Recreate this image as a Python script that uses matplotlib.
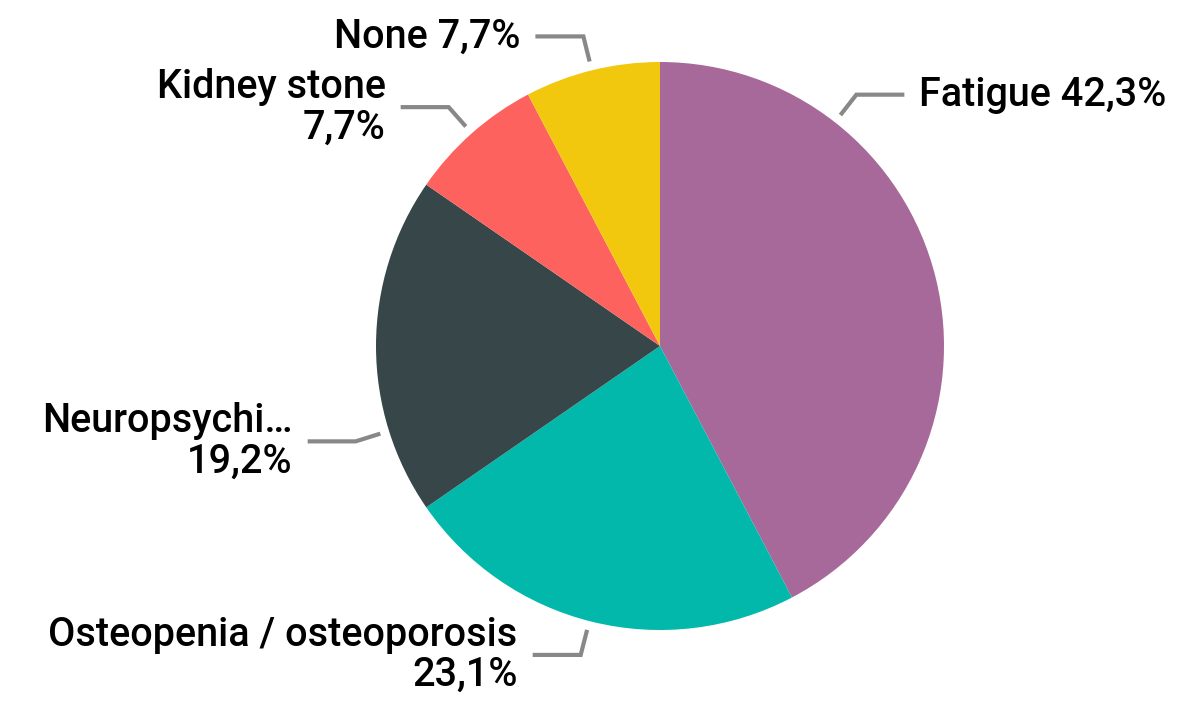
import numpy as np
import matplotlib
matplotlib.use("Agg")
import matplotlib.pyplot as plt

# data
labels = ["Fatigue", "Osteopenia / osteoporosis", "Neuropsychi…", "Kidney stone", "None"]
counts = [11, 6, 5, 2, 2]
percents = ["42,3%", "23,1%", "19,2%", "7,7%", "7,7%"]
colors = ["#A66999", "#01B8AA", "#374649", "#FD625E", "#F2C80F"]

# label layout (leader anchor angle in degrees, single/two line label)
anchor_ang = [52.0, -104.4, 197.4, 131.5, 103.9]
two_lines = [False, True, True, True, False]

W, H, DPI = 1192, 702, 100
fig = plt.figure(figsize=(W / DPI, H / DPI), dpi=DPI)
ax = fig.add_axes([0, 0, 1, 1])

ax.pie(counts, colors=colors, startangle=90, counterclock=False,
       wedgeprops=dict(linewidth=0))

cx, cy, R = 660, 356, 284  # pixel centre (from bottom) and radius
ax.set_xlim(-cx / R, (W - cx) / R)
ax.set_ylim(-cy / R, (H - cy) / R)
ax.set_aspect("equal")
ax.axis("off")

plt.rcParams['font.family'] = ['Roboto', 'DejaVu Sans']

r0, r1 = 1.032, 1.123
hlen = 48 / R
gap = 15 / R
for lab, pct, ang, two in zip(labels, percents, anchor_ang, two_lines):
    a = np.deg2rad(ang)
    x0, y0 = r0 * np.cos(a), r0 * np.sin(a)
    x1, y1 = r1 * np.cos(a), r1 * np.sin(a)
    side = 1 if np.cos(a) > 0 else -1
    x2 = x1 + side * hlen
    ax.plot([x0, x1, x2], [y0, y1, y1], color="#888888", lw=3,
            solid_capstyle="butt", solid_joinstyle="miter")
    txt = f"{lab}\n{pct}" if two else f"{lab} {pct}"
    ax.text(x2 + side * gap, y1, txt, ha="left" if side > 0 else "right",
            va="center", multialignment="right", fontsize=28.5,
            fontweight="medium", color="black", linespacing=1.08)

fig.savefig("out.png", dpi=DPI)
